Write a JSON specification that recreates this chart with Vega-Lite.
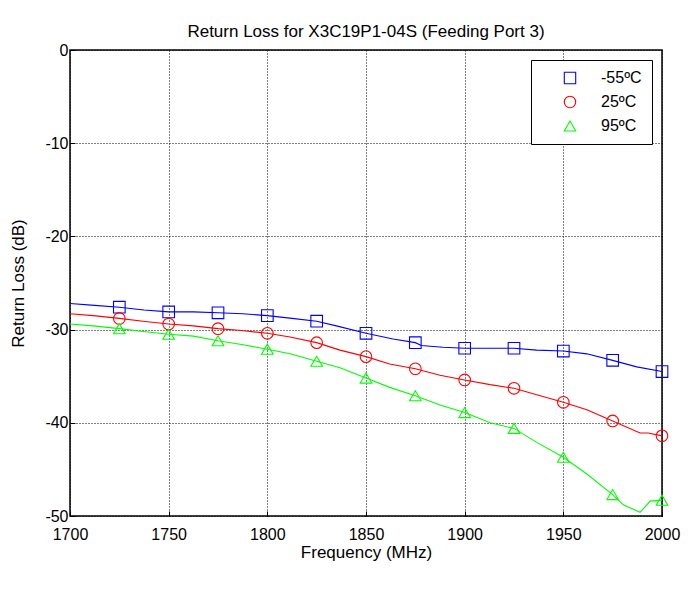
{
  "$schema": "https://vega.github.io/schema/vega-lite/v6.json",
  "width": 592,
  "height": 466,
  "autosize": {"type": "none"},
  "padding": {"left": 70, "top": 50, "right": 35, "bottom": 77},
  "background": "white",
  "title": {
    "text": "Return Loss for X3C19P1-04S (Feeding Port 3)",
    "font": "Liberation Sans",
    "fontSize": 17,
    "fontWeight": "normal",
    "color": "black",
    "offset": 1
  },
  "config": {
    "view": {"stroke": "black", "strokeWidth": 1.5},
    "axis": {
      "labelFont": "Liberation Sans",
      "labelFontSize": 16,
      "labelColor": "black",
      "labelFlush": false,
      "labelExpr": "datum.value + ''",
      "titleFont": "Liberation Sans",
      "titleFontSize": 17,
      "titleFontWeight": "normal",
      "titleColor": "black",
      "domain": false,
      "grid": true,
      "gridColor": "black",
      "gridDash": [1, 2],
      "gridWidth": 1,
      "gridOpacity": 1,
      "ticks": true,
      "tickSize": -5,
      "tickColor": "black",
      "tickWidth": 1
    }
  },
  "data": {
    "values": [
      {"f": 1700, "rl": -27.2, "t": "-55ºC"},
      {"f": 1712.5, "rl": -27.4, "t": "-55ºC"},
      {"f": 1725, "rl": -27.6, "t": "-55ºC"},
      {"f": 1737.5, "rl": -27.9, "t": "-55ºC"},
      {"f": 1750, "rl": -28.1, "t": "-55ºC"},
      {"f": 1762.5, "rl": -28.1, "t": "-55ºC"},
      {"f": 1775, "rl": -28.2, "t": "-55ºC"},
      {"f": 1787.5, "rl": -28.3, "t": "-55ºC"},
      {"f": 1800, "rl": -28.5, "t": "-55ºC"},
      {"f": 1812.5, "rl": -28.8, "t": "-55ºC"},
      {"f": 1825, "rl": -29.1, "t": "-55ºC"},
      {"f": 1835, "rl": -29.6, "t": "-55ºC"},
      {"f": 1850, "rl": -30.4, "t": "-55ºC"},
      {"f": 1863.7, "rl": -31.0, "t": "-55ºC"},
      {"f": 1875, "rl": -31.4, "t": "-55ºC"},
      {"f": 1878, "rl": -31.7, "t": "-55ºC"},
      {"f": 1889, "rl": -31.9, "t": "-55ºC"},
      {"f": 1900, "rl": -32.0, "t": "-55ºC"},
      {"f": 1914.5, "rl": -32.0, "t": "-55ºC"},
      {"f": 1925, "rl": -32.0, "t": "-55ºC"},
      {"f": 1936.5, "rl": -32.2, "t": "-55ºC"},
      {"f": 1950, "rl": -32.3, "t": "-55ºC"},
      {"f": 1961.9, "rl": -32.6, "t": "-55ºC"},
      {"f": 1975, "rl": -33.3, "t": "-55ºC"},
      {"f": 1987.2, "rl": -34.0, "t": "-55ºC"},
      {"f": 2000, "rl": -34.5, "t": "-55ºC"},

      {"f": 1700, "rl": -28.3, "t": "25ºC"},
      {"f": 1711.8, "rl": -28.5, "t": "25ºC"},
      {"f": 1725, "rl": -28.8, "t": "25ºC"},
      {"f": 1737, "rl": -29.1, "t": "25ºC"},
      {"f": 1750, "rl": -29.4, "t": "25ºC"},
      {"f": 1762.5, "rl": -29.6, "t": "25ºC"},
      {"f": 1775, "rl": -29.9, "t": "25ºC"},
      {"f": 1787, "rl": -30.1, "t": "25ºC"},
      {"f": 1800, "rl": -30.4, "t": "25ºC"},
      {"f": 1811.5, "rl": -30.8, "t": "25ºC"},
      {"f": 1825, "rl": -31.4, "t": "25ºC"},
      {"f": 1836.8, "rl": -32.2, "t": "25ºC"},
      {"f": 1850, "rl": -32.9, "t": "25ºC"},
      {"f": 1862, "rl": -33.7, "t": "25ºC"},
      {"f": 1875, "rl": -34.2, "t": "25ºC"},
      {"f": 1887.5, "rl": -34.9, "t": "25ºC"},
      {"f": 1900, "rl": -35.4, "t": "25ºC"},
      {"f": 1912.9, "rl": -35.9, "t": "25ºC"},
      {"f": 1925, "rl": -36.3, "t": "25ºC"},
      {"f": 1936.5, "rl": -37.0, "t": "25ºC"},
      {"f": 1950, "rl": -37.8, "t": "25ºC"},
      {"f": 1961.9, "rl": -38.6, "t": "25ºC"},
      {"f": 1975, "rl": -39.8, "t": "25ºC"},
      {"f": 1988.9, "rl": -41.1, "t": "25ºC"},
      {"f": 1993, "rl": -41.1, "t": "25ºC"},
      {"f": 2000, "rl": -41.4, "t": "25ºC"},

      {"f": 1700, "rl": -29.4, "t": "95ºC"},
      {"f": 1711.8, "rl": -29.6, "t": "95ºC"},
      {"f": 1725, "rl": -29.9, "t": "95ºC"},
      {"f": 1737, "rl": -30.2, "t": "95ºC"},
      {"f": 1750, "rl": -30.5, "t": "95ºC"},
      {"f": 1762.5, "rl": -30.7, "t": "95ºC"},
      {"f": 1775, "rl": -31.2, "t": "95ºC"},
      {"f": 1787, "rl": -31.6, "t": "95ºC"},
      {"f": 1800, "rl": -32.1, "t": "95ºC"},
      {"f": 1811.5, "rl": -32.6, "t": "95ºC"},
      {"f": 1825, "rl": -33.4, "t": "95ºC"},
      {"f": 1836.8, "rl": -34.1, "t": "95ºC"},
      {"f": 1850, "rl": -35.2, "t": "95ºC"},
      {"f": 1862, "rl": -36.2, "t": "95ºC"},
      {"f": 1875, "rl": -37.1, "t": "95ºC"},
      {"f": 1887.5, "rl": -38.1, "t": "95ºC"},
      {"f": 1900, "rl": -38.9, "t": "95ºC"},
      {"f": 1912.9, "rl": -40.0, "t": "95ºC"},
      {"f": 1925, "rl": -40.6, "t": "95ºC"},
      {"f": 1936.5, "rl": -42.1, "t": "95ºC"},
      {"f": 1950, "rl": -43.7, "t": "95ºC"},
      {"f": 1961.9, "rl": -45.5, "t": "95ºC"},
      {"f": 1975, "rl": -47.7, "t": "95ºC"},
      {"f": 1980.4, "rl": -48.8, "t": "95ºC"},
      {"f": 1988.9, "rl": -49.6, "t": "95ºC"},
      {"f": 1994, "rl": -48.4, "t": "95ºC"},
      {"f": 2000, "rl": -48.3, "t": "95ºC"}
    ]
  },
  "encoding": {
    "x": {
      "field": "f",
      "type": "quantitative",
      "title": "Frequency (MHz)",
      "scale": {"domain": [1700, 2000], "nice": false, "zero": false},
      "axis": {"values": [1700, 1750, 1800, 1850, 1900, 1950, 2000], "labelPadding": 15, "titlePadding": 2}
    },
    "y": {
      "field": "rl",
      "type": "quantitative",
      "title": "Return Loss (dB)",
      "scale": {"domain": [-50, 0], "nice": false, "zero": false},
      "axis": {"values": [-50, -40, -30, -20, -10, 0], "labelPadding": 7, "titlePadding": 17}
    }
  },
  "layer": [
    {
      "mark": {"type": "line", "strokeWidth": 1.1},
      "encoding": {
        "color": {
          "field": "t",
          "type": "nominal",
          "scale": {"domain": ["-55ºC", "25ºC", "95ºC"], "range": ["#0000ff", "#ff0000", "#00ff00"]}
        },
        "order": {"field": "f", "type": "quantitative"}
      }
    },
    {
      "transform": [{"filter": "datum.f % 25 == 0 && datum.f > 1700"}],
      "mark": {"type": "point", "filled": false, "strokeWidth": 1.1, "size": 135, "opacity": 1},
      "encoding": {
        "color": {
          "field": "t",
          "type": "nominal",
          "scale": {"domain": ["-55ºC", "25ºC", "95ºC"], "range": ["#0000ff", "#ff0000", "#00ff00"]},
          "legend": {
            "title": null,
            "orient": "none",
            "legendX": 461,
            "legendY": 10,
            "fillColor": "white",
            "strokeColor": "black",
            "padding": 10,
            "symbolOffset": 21,
            "labelOffset": 23,
            "labelFont": "Liberation Sans",
            "labelFontSize": 16,
            "labelColor": "black",
            "rowPadding": 8,
            "symbolSize": 130,
            "symbolStrokeWidth": 1.1,
            "symbolType": "square"
          }
        },
        "shape": {
          "field": "t",
          "type": "nominal",
          "scale": {"domain": ["-55ºC", "25ºC", "95ºC"], "range": ["square", "circle", "triangle-up"]},
          "legend": {
            "title": null,
            "orient": "none",
            "legendX": 461,
            "legendY": 10,
            "fillColor": "white",
            "strokeColor": "black",
            "padding": 10,
            "symbolOffset": 21,
            "labelOffset": 23,
            "labelFont": "Liberation Sans",
            "labelFontSize": 16,
            "labelColor": "black",
            "rowPadding": 8,
            "symbolSize": 130,
            "symbolStrokeWidth": 1.1
          }
        }
      }
    }
  ]
}
